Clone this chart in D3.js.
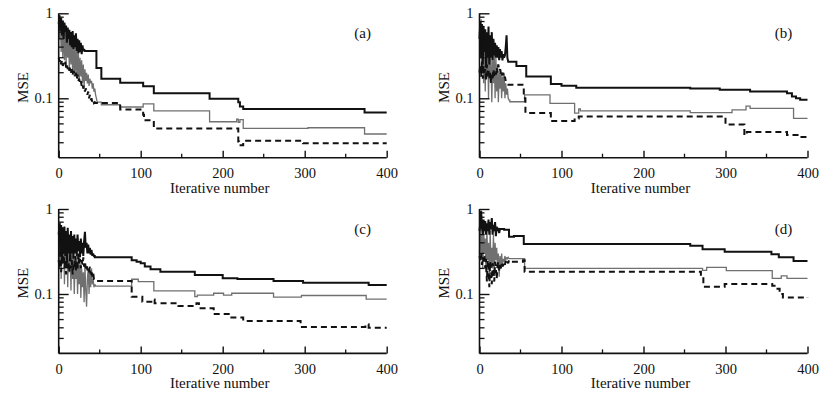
<!DOCTYPE html>
<html><head><meta charset="utf-8">
<script src="https://cdn.jsdelivr.net/npm/d3@7/dist/d3.min.js"></script>
<style>body{margin:0;background:#fff}svg{display:block}text{font-family:"Liberation Serif","Times New Roman",serif;fill:#111}</style>
</head><body><svg id="c" width="833" height="393"></svg>
<script>
// ---- data ----
const xMajorTicks = [0, 100, 200, 300, 400];
const xMinorTicks = [50, 150, 250, 350];
const yMajorTicks = [0.1, 1];
const yMinorTicks = [0.03, 0.04, 0.05, 0.06, 0.07, 0.08, 0.09, 0.2, 0.3, 0.4, 0.5, 0.6, 0.7, 0.8, 0.9];
const panelLabels = ["(a)", "(b)", "(c)", "(d)"];
const xTitle = "Iterative number";
const yTitle = "MSE";

// noisy early part: value per iteration from 0; then change points [iteration, value]
const aSolidNoise = [0.75,0.95,0.62,0.88,0.55,0.82,0.5,0.78,0.6,0.72,0.45,0.68,0.5,0.64,0.42,0.6,0.4,0.62,0.38,0.55,0.4,0.58,0.36,0.5,0.34,0.48,0.35,0.45,0.33,0.42,0.36,0.38,0.36];
const aSolidSteps = [[46,0.227],[52,0.17],[75,0.152],[103,0.139],[116,0.115],[184,0.099],[219,0.09],[221,0.08],[225,0.075],[373,0.068],[400,0.068]];
const aGrayNoise = [0.8,0.5,0.85,0.35,0.7,0.3,0.75,0.28,0.6,0.25,0.65,0.3,0.55,0.22,0.5,0.25,0.45,0.2,0.5,0.18,0.4,0.2,0.38,0.17,0.35,0.16,0.3,0.18,0.28,0.15,0.25,0.14,0.22,0.16,0.2,0.15,0.19,0.14,0.17,0.15,0.16,0.13,0.15,0.12,0.13,0.11,0.1,0.09];
const aGraySteps = [[52,0.084],[75,0.079],[103,0.086],[116,0.071],[184,0.053],[217,0.057],[219,0.052],[221,0.056],[225,0.0443],[304,0.045],[373,0.038],[400,0.038]];
const aDashNoise = [0.3,0.27,0.29,0.25,0.28,0.24,0.26,0.25,0.27,0.23,0.25,0.22,0.24,0.21,0.23,0.2,0.22,0.19,0.21,0.2,0.18,0.2,0.17,0.19,0.16,0.17,0.15,0.16,0.14,0.15,0.13,0.14,0.12,0.13,0.125,0.11,0.12,0.1,0.11,0.095,0.1,0.09,0.095,0.088,0.09,0.088,0.088];
const aDashSteps = [[75,0.074],[103,0.064],[104,0.055],[116,0.044],[219,0.031],[220,0.028],[225,0.0316],[298,0.0296],[400,0.0296]];

const bSolidNoise = [0.5,0.8,0.3,0.75,0.25,0.7,0.35,0.65,0.23,0.6,0.3,0.7,0.25,0.55,0.3,0.6,0.28,0.5,0.32,0.45,0.3,0.42,0.3,0.4,0.28,0.38,0.3,0.36,0.28,0.33,0.3,0.32,0.4,0.55,0.3,0.27,0.27];
const bSolidSteps = [[45,0.24],[57,0.18],[87,0.147],[100,0.14],[118,0.133],[257,0.13],[293,0.126],[330,0.12],[375,0.115],[381,0.105],[386,0.1],[391,0.096],[400,0.096]];
const bGrayNoise = [0.6,0.3,0.85,0.2,0.6,0.15,0.5,0.12,0.45,0.2,0.4,0.1,0.35,0.18,0.3,0.09,0.28,0.15,0.35,0.1,0.3,0.12,0.25,0.09,0.2,0.13,0.22,0.1,0.18,0.12,0.2,0.1,0.15,0.11,0.13,0.1,0.095];
const bGraySteps = [[37,0.091],[55,0.11],[86,0.087],[116,0.067],[121,0.075],[123,0.071],[257,0.068],[308,0.073],[325,0.081],[330,0.076],[383,0.058],[400,0.058]];
const bDashNoise = [0.2,0.25,0.18,0.27,0.17,0.24,0.2,0.22,0.16,0.25,0.18,0.21,0.17,0.2,0.15,0.19,0.17,0.22,0.18,0.2,0.19,0.23,0.2,0.25,0.21,0.22,0.19,0.18,0.2,0.19,0.17,0.18,0.16,0.15,0.145,0.144,0.144];
const bDashSteps = [[54,0.1],[56,0.067],[87,0.054],[116,0.058],[121,0.061],[293,0.061],[300,0.049],[323,0.037],[326,0.04],[375,0.037],[391,0.035],[400,0.035]];

const cSolidNoise = [0.5,0.68,0.3,0.65,0.25,0.6,0.3,0.62,0.28,0.55,0.25,0.6,0.3,0.5,0.28,0.55,0.3,0.48,0.26,0.5,0.3,0.45,0.28,0.5,0.32,0.42,0.27,0.45,0.3,0.4,0.28,0.42,0.54,0.35,0.4,0.3,0.38,0.3,0.35,0.29,0.33,0.28,0.3,0.28];
const cSolidSteps = [[44,0.27],[89,0.25],[95,0.24],[100,0.23],[105,0.21],[112,0.195],[124,0.183],[166,0.167],[200,0.153],[218,0.15],[262,0.142],[298,0.136],[378,0.128],[400,0.128]];
const cGrayNoise = [0.6,0.2,0.7,0.15,0.55,0.25,0.5,0.13,0.45,0.2,0.4,0.12,0.35,0.18,0.3,0.11,0.4,0.15,0.28,0.1,0.25,0.15,0.3,0.1,0.22,0.13,0.25,0.09,0.2,0.12,0.18,0.08,0.22,0.11,0.071,0.15,0.2,0.1,0.18,0.12,0.2,0.13,0.15,0.12,0.13,0.124];
const cGraySteps = [[89,0.149],[97,0.14],[116,0.109],[166,0.093],[169,0.097],[189,0.102],[201,0.097],[211,0.102],[262,0.092],[296,0.096],[375,0.087],[400,0.087]];
const cDashNoise = [0.25,0.2,0.3,0.18,0.28,0.22,0.33,0.2,0.25,0.17,0.27,0.2,0.24,0.18,0.3,0.2,0.25,0.17,0.22,0.2,0.28,0.19,0.24,0.2,0.3,0.22,0.26,0.2,0.25,0.22,0.27,0.21,0.24,0.2,0.22,0.19,0.2,0.18,0.21,0.17,0.19,0.16,0.18,0.15,0.15,0.142];
const cDashSteps = [[89,0.093],[102,0.081],[113,0.086],[117,0.078],[146,0.072],[168,0.078],[171,0.068],[189,0.058],[209,0.053],[225,0.048],[295,0.041],[374,0.044],[378,0.04],[400,0.04]];

const dSolidNoise = [0.55,0.7,0.95,0.6,0.5,0.75,0.55,0.72,0.5,0.68,0.55,0.75,0.5,0.7,0.58,0.78,0.5,0.65,0.55,0.7,0.48,0.62,0.55,0.6,0.52,0.58];
const dSolidSteps = [[30,0.57],[36,0.47],[42,0.48],[54,0.387],[257,0.37],[272,0.336],[299,0.315],[356,0.293],[365,0.27],[383,0.245],[400,0.245]];
const dGrayNoise = [0.3,0.7,0.25,0.5,0.2,0.65,0.3,0.45,0.18,0.6,0.25,0.4,0.15,0.55,0.22,0.35,0.2,0.5,0.17,0.4,0.25,0.35,0.2,0.3,0.16,0.28,0.2,0.3,0.22,0.26,0.24,0.28,0.25,0.27,0.26,0.27,0.26,0.26];
const dGraySteps = [[55,0.2],[272,0.19],[277,0.206],[301,0.188],[357,0.153],[368,0.163],[375,0.153],[400,0.153]];
const dDashNoise = [0.28,0.25,0.3,0.22,0.27,0.24,0.28,0.2,0.26,0.14,0.25,0.22,0.12,0.24,0.2,0.13,0.23,0.21,0.14,0.24,0.2,0.15,0.22,0.24,0.19,0.22,0.2,0.23,0.21,0.22,0.24,0.22,0.25,0.23,0.24,0.23,0.25,0.24];
const dDashSteps = [[53,0.25],[55,0.183],[270,0.16],[273,0.122],[299,0.131],[357,0.125],[362,0.115],[366,0.1],[370,0.091],[400,0.09]];

// ---- drawing ----
const svg = d3.select("#c");
const panels = [
  {x0: 58.7, x1: 386.7, y0: 13.3, y1: 157.7, series: [[aGrayNoise,aGraySteps],[aDashNoise,aDashSteps],[aSolidNoise,aSolidSteps]]},
  {x0: 479.5, x1: 807.5, y0: 13.3, y1: 157.7, series: [[bGrayNoise,bGraySteps],[bDashNoise,bDashSteps],[bSolidNoise,bSolidSteps]]},
  {x0: 58.7, x1: 386.7, y0: 209, y1: 353.4, series: [[cGrayNoise,cGraySteps],[cDashNoise,cDashSteps],[cSolidNoise,cSolidSteps]]},
  {x0: 479.5, x1: 807.5, y0: 209, y1: 353.4, series: [[dGrayNoise,dGraySteps],[dDashNoise,dDashSteps],[dSolidNoise,dSolidSteps]]}
];
const styles = [
  {stroke: "#707070", width: 1.3, dash: null},
  {stroke: "#111", width: 2, dash: "6,4"},
  {stroke: "#111", width: 2, dash: null}
];

panels.forEach((p, pi) => {
  const x = d3.scaleLinear().domain([0, 400]).range([p.x0, p.x1]);
  const y = d3.scaleLog().domain([0.02, 1]).range([p.y1, p.y0]);
  const g = svg.append("g");
  const noiseLine = d3.line().x(d => x(d[0])).y(d => y(d[1])).curve(d3.curveLinear);
  const stepLine = d3.line().x(d => x(d[0])).y(d => y(d[1])).curve(d3.curveStepAfter);
  p.series.forEach(([noise, steps], si) => {
    const st = styles[si];
    const n = noise.map((v, i) => [i, v]);
    const s = [n[n.length - 1]].concat(steps);
    const path = noiseLine(n) + stepLine(s).replace(/^M/, "L");
    g.append("path").attr("d", path).attr("fill", "none")
      .attr("stroke", st.stroke).attr("stroke-width", st.width)
      .attr("stroke-dasharray", st.dash).attr("stroke-linejoin", "miter").attr("stroke-miterlimit", 2);
  });
  // x axis (ticks inside)
  const xAxis = d3.axisBottom(x).tickValues(xMajorTicks).tickSize(-7).tickPadding(10).tickFormat(d3.format("d"));
  const gx = g.append("g").attr("transform", `translate(0,${p.y1})`).call(xAxis);
  gx.selectAll(".tick text").attr("font-size", 14.5).style("font-family", '"Liberation Serif", serif');
  gx.append("g").selectAll("line").data(xMinorTicks).join("line")
    .attr("x1", d => x(d)).attr("x2", d => x(d)).attr("y1", 0).attr("y2", -4).attr("stroke", "#111").attr("stroke-width", 1.3);
  // y axis (ticks inside)
  const yAxis = d3.axisLeft(y).tickValues(yMajorTicks).tickSize(-10).tickPadding(6).tickFormat(d => d === 1 ? "1" : "0.1");
  const gy = g.append("g").attr("transform", `translate(${p.x0},0)`).call(yAxis);
  gy.selectAll(".tick text").attr("font-size", 14.5).style("font-family", '"Liberation Serif", serif');
  gy.append("g").selectAll("line").data(yMinorTicks).join("line")
    .attr("x1", 0).attr("x2", 5).attr("y1", d => y(d)).attr("y2", d => y(d)).attr("stroke", "#111").attr("stroke-width", 1.3);
  [gx, gy].forEach(a => {
    a.select(".domain").attr("stroke", "#111").attr("stroke-width", 1.6);
    a.selectAll(".tick line").attr("stroke", "#111").attr("stroke-width", 1.4);
  });
  gx.select(".domain").attr("d", `M${p.x0},0H${p.x1}`);
  gy.select(".domain").attr("d", `M0,${p.y1}V${p.y0}`);
  // titles
  g.append("text").attr("x", (p.x0 + p.x1) / 2 - 3).attr("y", p.y1 + 35).attr("text-anchor", "middle")
    .attr("font-size", 15).text(xTitle);
  g.append("text").attr("transform", `translate(${p.x0 - 31},${(p.y0 + p.y1) / 2 + 2}) rotate(-90)`)
    .attr("text-anchor", "middle").attr("font-size", 15).text(yTitle);
  g.append("text").attr("x", p.x1 - 24).attr("y", p.y0 + 25).attr("text-anchor", "middle")
    .attr("font-size", 15).text(panelLabels[pi]);
});
</script></body></html>
